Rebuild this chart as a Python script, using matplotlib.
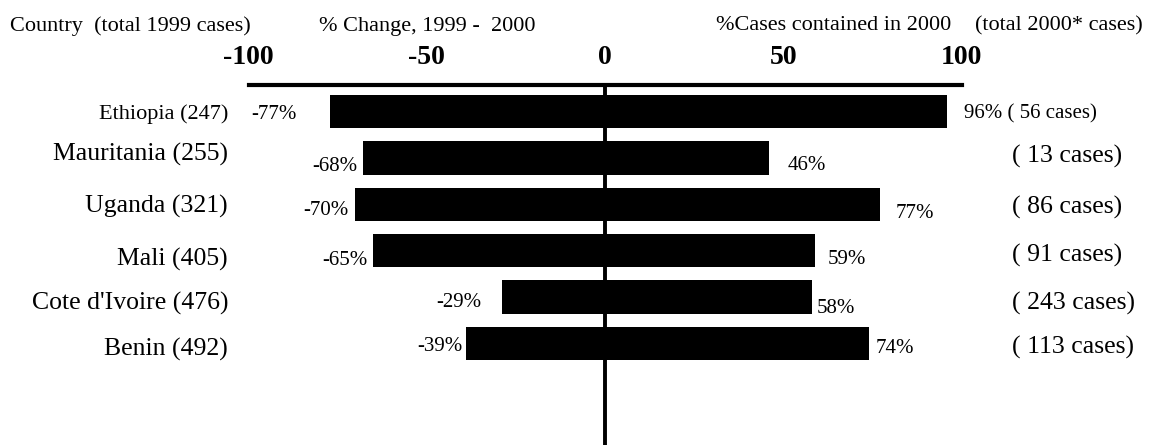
import matplotlib
matplotlib.use('Agg')
import matplotlib.pyplot as plt

plt.rcParams['font.family'] = ['Liberation Serif', 'DejaVu Serif']

# data
countries = ['Ethiopia', 'Mauritania', 'Uganda', 'Mali', "Cote d'Ivoire", 'Benin']
cases_1999 = [247, 255, 321, 405, 476, 492]
pct_change = [-77, -68, -70, -65, -29, -39]
pct_contained = [96, 46, 77, 59, 58, 74]
cases_2000 = [56, 13, 86, 91, 243, 113]
ticks = [-100, -50, 0, 50, 100]

# label nudges in pixels (gap from bar end, shift downwards), as in the original
left_gap = [34, 5, 7, 6, 20, 3]
left_dy = [3, 9, 6, 10, 5, 3]
right_gap = [17, 19, 16, 12, 5, 7]
right_dy = [2, 8, 9, 9, 11, 5]
name_dy = [3, -3, 2, 9, 6, 6]
case_dy = [3, -1, 3, 5, 6, 4]

W, H = 1171, 445
row_px = 46.4  # pixels between rows
px_per_unit = 713 / 200

fig = plt.figure(figsize=(W / 100, H / 100), dpi=100)
ax = fig.add_axes([248.5 / W, 0, 713 / W, 360 / H])

rows = list(range(len(countries)))
ax.barh(rows, pct_change, height=0.72, color='black')
ax.barh(rows, pct_contained, height=0.72, color='black')
ax.axvline(0, color='black', lw=2.8, zorder=3)

ax.set_xlim(-100, 100)
ax.set_ylim((H - 111.5) / row_px, -26.5 / row_px)

# axis: only the thick top line with bold numbers above it
for side in ['left', 'right', 'bottom']:
    ax.spines[side].set_visible(False)
ax.spines['top'].set_linewidth(3)
ax.xaxis.tick_top()
ax.set_xticks(ticks)
ax.set_xticklabels([str(t) for t in ticks], fontsize=20, fontweight='bold')
ax.tick_params(axis='x', length=0, pad=10.5)
ax.set_yticks([])

to_pt = 0.72  # pixels -> points at 100 dpi
for i in rows:
    # country names on the left
    ax.text((228 - 605) / px_per_unit, i + name_dy[i] / row_px,
            f'{countries[i]} ({cases_1999[i]})', ha='right', va='center',
            fontsize=16 if i == 0 else 18.5, clip_on=False)
    # % change labels left of the bars
    ax.annotate(f'{pct_change[i]}%', (pct_change[i], i),
                xytext=(-left_gap[i] * to_pt, -left_dy[i] * to_pt),
                textcoords='offset points', ha='right', va='center', fontsize=15)
    # % contained labels right of the bars
    right_txt = f'{pct_contained[i]}%'
    if i == 0:
        right_txt += f' ( {cases_2000[i]} cases)'
    ax.annotate(right_txt, (pct_contained[i], i),
                xytext=(right_gap[i] * to_pt, -right_dy[i] * to_pt),
                textcoords='offset points', ha='left', va='center', fontsize=15)
    # 2000 case counts at the far right
    if i > 0:
        ax.text((1012 - 605) / px_per_unit, i + case_dy[i] / row_px,
                f'( {cases_2000[i]} cases)', ha='left', va='center',
                fontsize=18.5, clip_on=False)

# column headers
hy = 1 - 26 / H
fig.text(10 / W, hy, 'Country  (total 1999 cases)', va='center', fontsize=16)
fig.text(319 / W, hy, '% Change, 1999 -  2000', va='center', fontsize=16)
fig.text(716 / W, hy, '%Cases contained in 2000', va='center', fontsize=16)
fig.text(975 / W, hy, '(total 2000* cases)', va='center', fontsize=16)

fig.savefig('out.png', dpi=100)
